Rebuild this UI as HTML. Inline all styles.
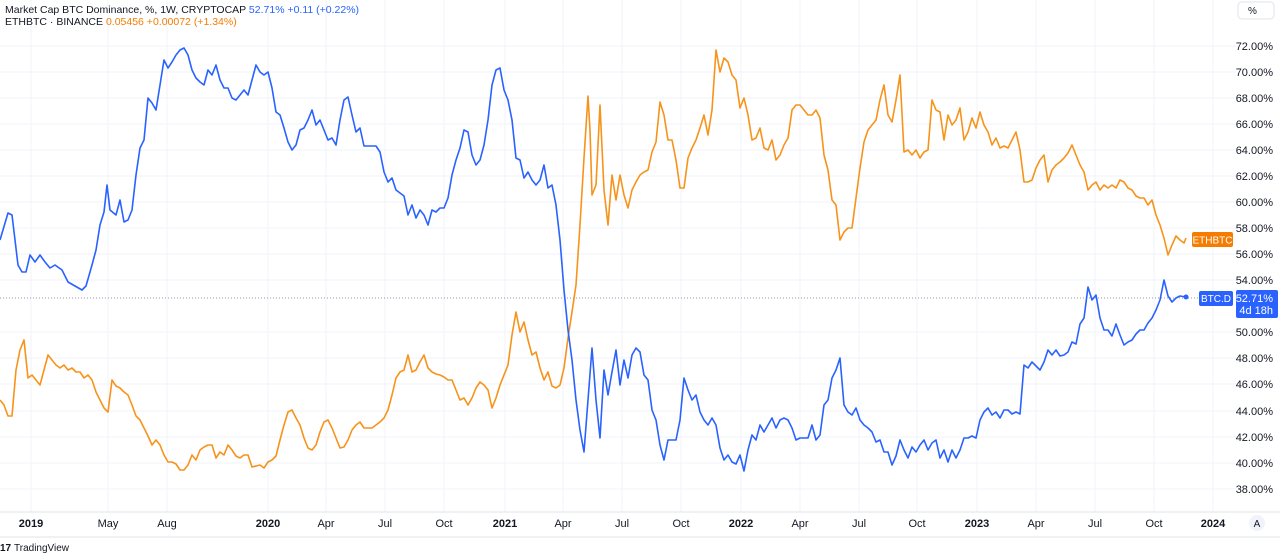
<!DOCTYPE html>
<html><head><meta charset="utf-8"><style>
body{margin:0;background:#fff;width:1280px;height:558px;overflow:hidden;font-family:"Liberation Sans",sans-serif}
svg{position:absolute;left:0;top:0}
</style></head><body>
<svg width="1280" height="558" viewBox="0 0 1280 558" font-family="Liberation Sans, sans-serif">
<g stroke="#f0f3fa" stroke-width="1">
<line x1="31" y1="0" x2="31" y2="512"/><line x1="108" y1="0" x2="108" y2="512"/><line x1="167" y1="0" x2="167" y2="512"/><line x1="268" y1="0" x2="268" y2="512"/><line x1="326" y1="0" x2="326" y2="512"/><line x1="385" y1="0" x2="385" y2="512"/><line x1="444" y1="0" x2="444" y2="512"/><line x1="505" y1="0" x2="505" y2="512"/><line x1="563" y1="0" x2="563" y2="512"/><line x1="622" y1="0" x2="622" y2="512"/><line x1="681" y1="0" x2="681" y2="512"/><line x1="741" y1="0" x2="741" y2="512"/><line x1="800" y1="0" x2="800" y2="512"/><line x1="859" y1="0" x2="859" y2="512"/><line x1="917" y1="0" x2="917" y2="512"/><line x1="977" y1="0" x2="977" y2="512"/><line x1="1036" y1="0" x2="1036" y2="512"/><line x1="1095" y1="0" x2="1095" y2="512"/><line x1="1154" y1="0" x2="1154" y2="512"/><line x1="1213" y1="0" x2="1213" y2="512"/>
<line x1="0" y1="46" x2="1236" y2="46"/><line x1="0" y1="72" x2="1236" y2="72"/><line x1="0" y1="98" x2="1236" y2="98"/><line x1="0" y1="124" x2="1236" y2="124"/><line x1="0" y1="150" x2="1236" y2="150"/><line x1="0" y1="176" x2="1236" y2="176"/><line x1="0" y1="202" x2="1236" y2="202"/><line x1="0" y1="228" x2="1236" y2="228"/><line x1="0" y1="254" x2="1236" y2="254"/><line x1="0" y1="280" x2="1236" y2="280"/><line x1="0" y1="332" x2="1236" y2="332"/><line x1="0" y1="358" x2="1236" y2="358"/><line x1="0" y1="384" x2="1236" y2="384"/><line x1="0" y1="411" x2="1236" y2="411"/><line x1="0" y1="437" x2="1236" y2="437"/><line x1="0" y1="463" x2="1236" y2="463"/><line x1="0" y1="489" x2="1236" y2="489"/>
</g>
<line x1="0" y1="512" x2="1280" y2="512" stroke="#e0e3eb"/>
<line x1="0" y1="298" x2="1200" y2="298" stroke="#9598a1" stroke-dasharray="1,2"/>
<polyline fill="none" stroke="#f7931a" stroke-width="1.6" stroke-linejoin="round" points="0,400 4,405 8,416 12,416 16,370 20,350 24,340 28,378 32,375 36,380 40,385 44,370 48,355 52,360 56,365 60,368 64,365 68,370 72,368 76,372 80,372 84,378 88,375 92,380 96,392 100,400 104,408 108,412 112,380 116,386 120,388 124,392 128,395 132,405 136,416 140,420 144,428 148,436 152,445 156,440 160,445 164,455 168,462 172,462 176,464 180,470 184,470 188,465 192,455 196,460 200,450 204,447 208,445 212,445 216,458 220,452 224,455 228,445 232,450 236,456 240,458 244,455 248,455 252,467 256,466 260,465 264,468 268,462 272,460 276,456 280,440 284,425 288,412 292,410 296,418 300,425 304,438 308,448 312,450 316,445 320,432 324,422 328,420 332,428 336,438 340,448 344,447 348,440 352,430 356,425 360,422 364,428 368,428 372,428 376,425 380,422 384,418 388,410 392,395 396,378 400,372 404,370 408,355 412,372 416,370 420,362 424,355 428,368 432,372 436,374 440,375 444,377 448,380 452,380 456,390 460,400 464,398 468,405 472,398 476,388 480,382 484,385 488,390 492,408 496,398 500,385 504,375 508,365 512,335 516,312 520,332 524,322 528,340 532,355 536,352 540,368 544,380 548,372 552,386 556,388 560,385 564,368 568,338 572,312 576,285 580,225 584,158 588,96 590,130 592,195 596,185 600,105 604,190 608,225 612,175 616,200 620,175 624,195 628,208 632,190 636,182 640,175 644,172 648,170 652,152 656,142 660,102 664,115 668,140 672,140 676,160 680,188 684,188 688,158 692,148 696,140 700,128 704,115 708,135 712,110 716,50 720,72 724,58 728,62 732,75 736,80 740,108 744,98 748,115 752,140 756,138 760,128 764,148 768,150 772,140 776,160 780,155 784,145 788,138 792,110 796,105 800,105 804,110 808,115 812,115 816,110 820,118 824,155 828,170 832,200 836,205 840,240 844,232 848,228 852,228 856,198 860,168 864,142 868,130 872,125 876,120 880,100 884,85 888,115 892,122 896,100 900,75 904,152 908,150 912,155 916,150 920,158 924,152 928,150 932,100 936,110 940,112 944,140 948,115 952,125 956,120 960,108 964,140 968,132 972,118 976,128 980,112 984,125 988,132 992,145 996,138 1000,148 1004,146 1008,148 1012,140 1016,132 1020,150 1024,182 1028,182 1032,180 1036,168 1040,160 1044,155 1048,182 1052,170 1056,165 1060,162 1064,158 1068,153 1072,145 1076,155 1080,165 1084,172 1088,190 1092,185 1096,182 1100,190 1104,185 1108,188 1112,185 1116,188 1120,180 1124,182 1128,188 1132,190 1136,196 1140,198 1144,198 1148,205 1152,200 1156,215 1160,225 1164,238 1168,255 1172,245 1176,236 1180,240 1184,243 1186,238"/>
<polyline fill="none" stroke="#2962ff" stroke-width="1.6" stroke-linejoin="round" points="0,240 8,213 12,215 18,265 22,272 26,272 30,255 35,262 40,255 45,262 50,268 55,265 62,270 68,282 75,286 82,290 86,286 92,265 96,250 100,225 104,212 107,185 110,210 116,215 120,200 124,222 128,220 132,210 136,175 140,148 144,140 148,98 152,103 156,110 160,85 164,60 168,68 172,62 176,55 180,50 184,48 188,55 192,70 196,78 200,82 204,85 208,70 212,75 216,65 220,80 224,88 228,88 232,98 236,100 240,95 244,90 248,95 252,80 256,65 260,72 264,75 268,72 272,88 276,112 280,115 284,128 288,142 292,150 296,145 300,130 304,128 308,120 312,110 316,125 320,120 324,130 328,140 332,138 336,145 340,120 344,100 348,97 352,115 356,132 360,128 364,146 368,146 372,146 376,146 380,152 384,172 388,182 392,178 396,190 400,193 404,196 408,215 412,205 416,218 420,210 424,215 428,225 432,210 436,212 440,208 444,208 448,198 452,175 456,160 460,148 464,130 468,132 472,155 476,165 480,160 484,145 488,120 492,85 496,70 500,68 504,90 508,100 512,120 516,158 520,160 524,178 528,172 532,180 536,185 540,180 544,165 548,188 552,185 556,205 560,240 564,290 568,330 572,360 576,400 580,430 584,452 588,400 592,348 596,400 600,438 604,370 608,395 612,372 616,350 620,385 624,360 628,378 632,355 636,348 640,352 644,375 648,380 652,410 656,420 660,445 664,460 668,440 672,440 676,440 680,420 684,378 688,390 692,400 696,395 700,412 704,420 708,425 712,418 716,425 720,448 724,460 728,455 732,462 736,464 740,455 744,471 748,450 752,435 756,440 760,425 764,432 768,425 772,418 776,428 780,420 784,418 788,420 792,428 796,440 800,438 804,438 808,438 812,425 816,440 820,435 824,405 828,400 832,378 836,370 840,358 844,405 848,412 852,415 856,408 860,420 864,425 868,428 872,432 876,442 880,440 884,452 888,452 892,465 896,456 900,440 904,450 908,458 912,447 916,452 920,445 924,440 928,450 932,443 936,440 940,458 944,450 948,462 952,450 956,458 960,450 964,438 968,438 972,436 976,438 980,420 984,412 988,408 992,415 996,412 1000,418 1004,410 1008,410 1012,414 1016,412 1020,414 1024,365 1028,368 1032,362 1036,366 1040,370 1044,362 1048,350 1052,355 1056,350 1060,356 1064,355 1068,352 1072,342 1076,344 1080,324 1084,318 1088,287 1092,300 1096,295 1100,318 1104,330 1108,330 1112,336 1116,324 1120,335 1124,345 1128,342 1132,340 1136,334 1140,330 1144,330 1148,323 1152,318 1156,310 1160,300 1164,280 1168,296 1172,302 1176,298 1180,296 1186,297"/>
<circle cx="1186" cy="297" r="2.5" fill="#2962ff"/>
<g font-size="11" fill="#131722" text-anchor="end">
<text x="1273" y="50">72.00%</text><text x="1273" y="76">70.00%</text><text x="1273" y="102">68.00%</text><text x="1273" y="128">66.00%</text><text x="1273" y="154">64.00%</text><text x="1273" y="180">62.00%</text><text x="1273" y="206">60.00%</text><text x="1273" y="232">58.00%</text><text x="1273" y="258">56.00%</text><text x="1273" y="284">54.00%</text><text x="1273" y="336">50.00%</text><text x="1273" y="362">48.00%</text><text x="1273" y="388">46.00%</text><text x="1273" y="415">44.00%</text><text x="1273" y="441">42.00%</text><text x="1273" y="467">40.00%</text><text x="1273" y="493">38.00%</text>
</g>
<rect x="1192" y="232" width="41" height="15" rx="2" fill="#f57c00"/>
<text x="1212.5" y="243.5" font-size="10" fill="#fff" text-anchor="middle">ETHBTC</text>
<rect x="1199" y="291" width="34" height="15" rx="2" fill="#2962ff"/>
<text x="1216" y="302" font-size="10" fill="#fff" text-anchor="middle">BTC.D</text>
<rect x="1236" y="290" width="42" height="28" rx="2" fill="#2962ff"/>
<text x="1273" y="302" font-size="11" fill="#fff" text-anchor="end">52.71%</text>
<text x="1273" y="314" font-size="11" fill="#fff" text-anchor="end">4d 18h</text>
<rect x="1238" y="2" width="36" height="17" rx="4" fill="#fff" stroke="#e0e3eb"/>
<text x="1248" y="14" font-size="10" fill="#131722">%</text>
<g font-size="11" fill="#131722" text-anchor="middle">
<text x="31" y="527" font-weight="bold">2019</text><text x="108" y="527">May</text><text x="167" y="527">Aug</text><text x="268" y="527" font-weight="bold">2020</text><text x="326" y="527">Apr</text><text x="385" y="527">Jul</text><text x="444" y="527">Oct</text><text x="505" y="527" font-weight="bold">2021</text><text x="563" y="527">Apr</text><text x="622" y="527">Jul</text><text x="681" y="527">Oct</text><text x="741" y="527" font-weight="bold">2022</text><text x="800" y="527">Apr</text><text x="859" y="527">Jul</text><text x="917" y="527">Oct</text><text x="977" y="527" font-weight="bold">2023</text><text x="1036" y="527">Apr</text><text x="1095" y="527">Jul</text><text x="1154" y="527">Oct</text><text x="1213" y="527" font-weight="bold">2024</text>
</g>
<circle cx="1257" cy="523" r="8" fill="#f0f3fa"/>
<text x="1257" y="527" font-size="10" fill="#131722" text-anchor="middle">A</text>
<line x1="0" y1="537" x2="1280" y2="537" stroke="#e0e3eb"/>
<text x="0" y="551" font-size="10" font-weight="bold" fill="#131722">17</text>
<text x="14" y="551" font-size="10" fill="#131722">TradingView</text>
<g font-size="10.5">
<text x="5" y="13" fill="#131722">Market Cap BTC Dominance, %, 1W, CRYPTOCAP <tspan fill="#2962ff">  52.71%  +0.11 (+0.22%)</tspan></text>
<text x="5" y="25" fill="#131722">ETHBTC · BINANCE <tspan fill="#f57c00">  0.05456  +0.00072 (+1.34%)</tspan></text>
</g>
</svg>
</body></html>
